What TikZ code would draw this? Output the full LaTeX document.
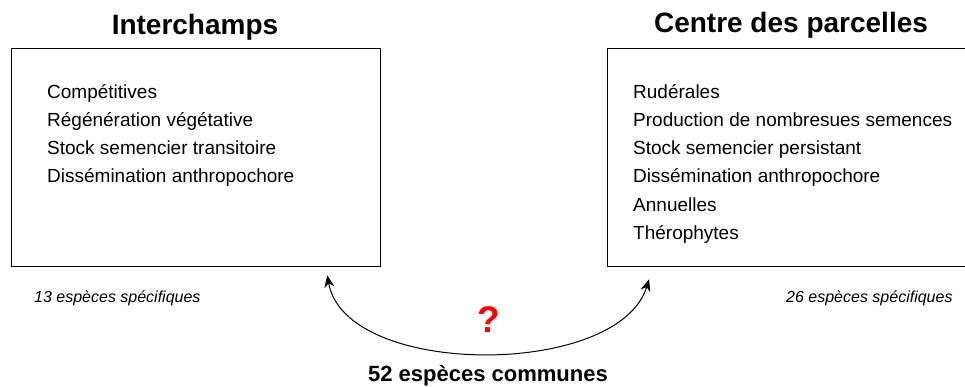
\documentclass[tikz,border=0pt]{standalone}
\usepackage{fontspec}
\setmainfont{Liberation Sans}
\usetikzlibrary{arrows.meta,calc,positioning}

\begin{document}
\begin{tikzpicture}[x=1pt,y=-1pt,
	cadre/.style={draw,line width=1.3pt,inner sep=0pt,anchor=north west},
	titre/.style={font=\fontsize{28}{33}\selectfont\bfseries,anchor=base,inner sep=0pt},
	liste/.style={align=left,anchor=base west,inner sep=0pt,font=\fontsize{19}{28}\selectfont},
	nombre/.style={font=\fontsize{16}{19}\selectfont\itshape,anchor=base west,inner sep=0pt},
	fleche/.style={line width=1pt,{Stealth[length=12pt,width=10pt]}-{Stealth[length=12pt,width=10pt]}}]
		\useasboundingbox (0,0) rectangle (965,387);
		\node[cadre,minimum width=369pt,minimum height=218pt] (inter) at (11,48) {};
		\node[cadre,minimum width=360pt,minimum height=218pt] (centre) at (607,48) {};
		\node[titre] (tinter) at (195,35) {Interchamps};
		\node[titre] (tcentre) at (791,33) {Centre des parcelles};
		\node[liste] (linter) at (47,183) {Compétitives\\Régénération végétative\\Stock semencier transitoire\\Dissémination anthropochore};
		\node[liste] (lcentre) at (633,239) {Rudérales\\Production de nombresues semences\\Stock semencier persistant\\Dissémination anthropochore\\Annuelles\\Thérophytes};
		\node[nombre] (ninter) at (34,302) {13 espèces spécifiques};
		\node[nombre] (ncentre) at (786,302) {26 espèces spécifiques};
		\coordinate (pinter) at ([shift={(-54,8)}]inter.south east);
		\coordinate (pcentre) at ([shift={(42,12)}]centre.south west);
		\draw[fleche] (pinter) .. controls +(18,103) and +(-30,99) .. (pcentre);
		\node[font=\fontsize{37}{40}\selectfont\bfseries,text=red,anchor=base,inner sep=0pt] (question) at (489,332) {?};
		\node[font=\fontsize{22}{26}\selectfont\bfseries,anchor=base,inner sep=0pt] (communes) at (488,381) {52 espèces communes};
\end{tikzpicture}
\end{document}
